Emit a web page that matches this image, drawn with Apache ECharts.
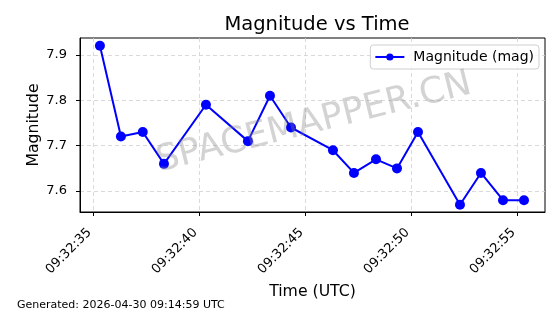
<!DOCTYPE html>
<html><head><meta charset="utf-8">
<script src="https://cdn.jsdelivr.net/npm/echarts@6/dist/echarts.min.js"></script>
<style>html,body{margin:0;padding:0;background:#fff}#c{width:560px;height:314px}</style>
</head><body><div id="c"></div>
<script>
// seconds after 09:32:00 UTC
const times = [35.33, 36.32, 37.35, 38.35, 40.33, 42.31, 43.35, 44.34, 46.32, 47.31, 48.35, 49.34, 50.33, 52.31, 53.30, 54.34, 55.33];
const magnitudes = [7.92, 7.72, 7.73, 7.66, 7.79, 7.71, 7.81, 7.74, 7.69, 7.64, 7.67, 7.65, 7.73, 7.57, 7.64, 7.58, 7.58];
const xTicks = [35, 40, 45, 50, 55];
const yTicks = [7.6, 7.7, 7.8, 7.9];
const FONT = 'DejaVu Sans';

const chart = echarts.init(document.getElementById('c'), null, {renderer: 'canvas'});
chart.setOption({
  animation: false,
  backgroundColor: '#fff',
  textStyle: {fontFamily: FONT},
  title: {text: 'Magnitude vs Time', left: 312, top: 10, textAlign: 'center',
    textStyle: {fontFamily: FONT, fontSize: 19.5, fontWeight: 'normal', color: '#000'}},
  grid: {left: 80, right: 15, top: 38, bottom: 102, show: true, borderColor: '#000', borderWidth: 1, backgroundColor: 'transparent'},
  legend: {right: 21, top: 45, itemWidth: 29, itemHeight: 9, itemGap: 6,
    backgroundColor: 'rgba(255,255,255,0.8)', borderColor: '#d0d0d0', borderWidth: 1, borderRadius: 3,
    padding: [5, 5, 5, 4],
    textStyle: {fontFamily: FONT, fontSize: 14, color: '#000', padding: [0, 0, 0, 4]},
    data: ['Magnitude (mag)']},
  xAxis: {type: 'value', min: 34.39, max: 56.32,
    name: 'Time (UTC)', nameLocation: 'middle', nameGap: 71,
    nameTextStyle: {fontFamily: FONT, fontSize: 15.7, color: '#000'},
    axisLine: {show: true, lineStyle: {color: '#000'}},
    axisTick: {show: true, length: 4, lineStyle: {color: '#000'}, customValues: xTicks},
    axisLabel: {customValues: xTicks, rotate: 45, fontFamily: FONT, fontSize: 13, color: '#000', margin: 15,
      padding: [0, 5, 0, 0],
      formatter: v => '09:32:' + String(Math.round(v)).padStart(2, '0')},
    splitLine: {show: true, lineStyle: {color: '#d0d0d0', type: [4, 3], width: 0.8}}},
  yAxis: {type: 'value', min: 7.554, max: 7.937,
    name: 'Magnitude', nameLocation: 'middle', nameGap: 38, nameMoveOverlap: false,
    nameTextStyle: {fontFamily: FONT, fontSize: 15.7, color: '#000'},
    axisLine: {show: true, lineStyle: {color: '#000'}},
    axisTick: {show: true, length: 4, lineStyle: {color: '#000'}, customValues: yTicks},
    axisLabel: {customValues: yTicks, fontFamily: FONT, fontSize: 13, color: '#000', margin: 13,
      formatter: v => v.toFixed(1)},
    splitLine: {show: true, lineStyle: {color: '#d0d0d0', type: [4, 3], width: 0.8}}},
  graphic: [
    {type: 'text', left: 17, top: 300, style: {text: 'Generated: 2026-04-30 09:14:59 UTC', fontFamily: FONT, fontSize: 11, fill: '#000'}},
    {type: 'text', x: 314, y: 123, rotation: 14 * Math.PI / 180, z: 100,
      style: {text: 'SPACEMAPPER.CN', fontFamily: FONT, fontSize: 36, fill: 'rgba(128,128,128,0.35)', align: 'center', verticalAlign: 'middle'}}
  ],
  series: [{
    name: 'Magnitude (mag)', type: 'line',
    data: times.map((t, i) => [t, magnitudes[i]]),
    symbol: 'circle', symbolSize: 10,
    lineStyle: {color: '#0000ff', width: 2},
    itemStyle: {color: '#0000ff'},
    z: 3
  }]
});
</script></body></html>
